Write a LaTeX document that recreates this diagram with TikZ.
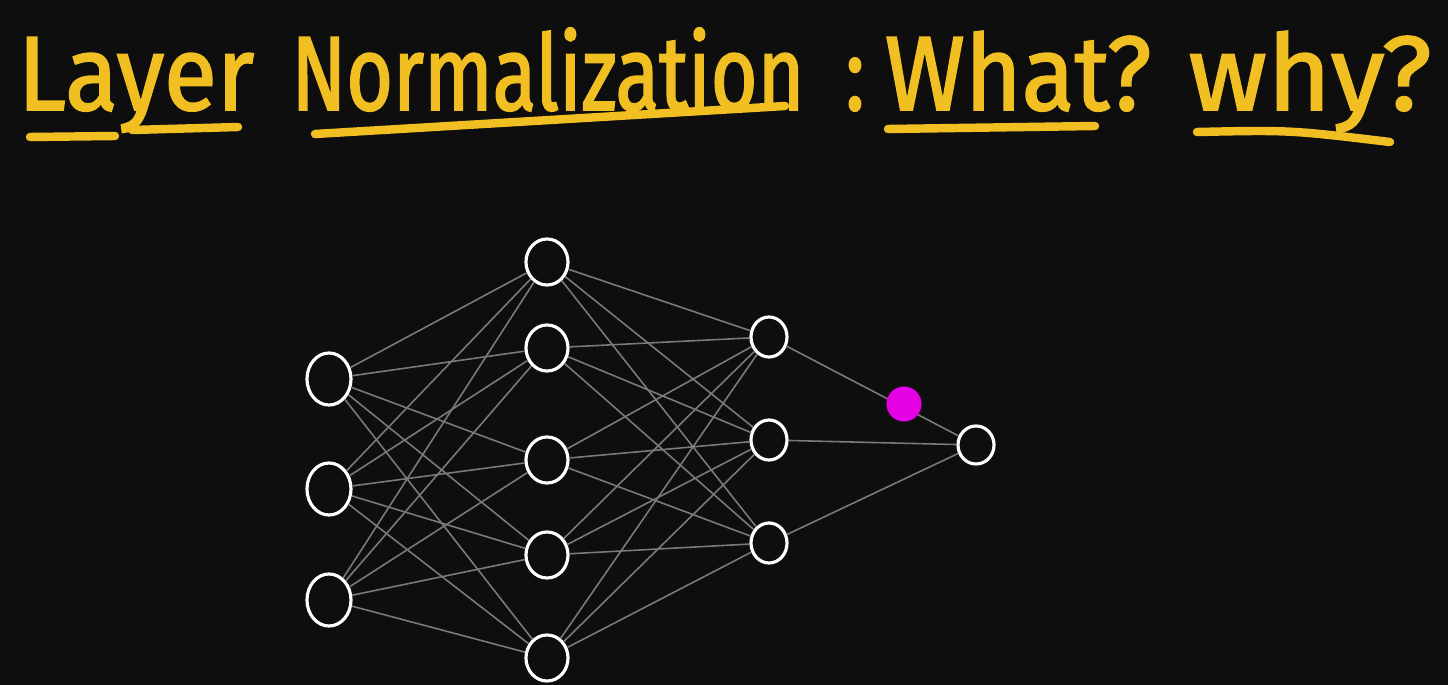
\documentclass[tikz,border=0pt]{standalone}
\usepackage{fontspec}
\newfontfamily\handfont[FakeStretch=0.76, FakeBold=1.6]{Fira Sans}
\newfontfamily\handwide[FakeStretch=0.92, FakeBold=1.6]{Fira Sans}
\newfontfamily\handwider[FakeStretch=1.04, FakeBold=1.6]{Fira Sans}
\usetikzlibrary{shapes.geometric}
\definecolor{board}{HTML}{0E0E0E}
\definecolor{chalk}{HTML}{F2BF22}
\definecolor{wiregray}{HTML}{7A7A7A}
\definecolor{pink}{HTML}{E600E6}

\begin{document}
\begin{tikzpicture}[x = 0.01cm, y = -0.01cm,
		neuron/.style = {ellipse, draw = white, line width = 0.9pt, inner sep = 0pt},
		link/.style = {draw = wiregray, line width = 0.45pt},
		title/.style = {anchor = base, text = chalk, inner sep = 0pt, font = \handfont\fontsize{30}{30}\selectfont},
		underline/.style = {draw = chalk, line width = 2.4pt, line cap = round}]
		\fill[board] (0, 0) rectangle (1448, 685);
		% title
		\node[title, font = \handwide\fontsize{30}{30}\selectfont] (tlayer) at (136, 110) {Layer};
		\node[title] (tnorm) at (548, 110) {Normalization};
		\node[title] (tcolon) at (855, 110) {:};
		\node[title, font = \handwide\fontsize{30}{30}\selectfont] (twhat) at (1018, 110) {What?};
		\node[title, font = \handwider\fontsize{30}{30}\selectfont] (twhy) at (1310, 110) {why?};
		\draw[underline] (30, 137) -- (115, 136);
		\draw[underline] (132, 130) -- (238, 127);
		\draw[underline] (315, 134) -- (785, 106);
		\draw[underline] (888, 129) -- (1095, 126);
		\draw[underline] (1197, 132) .. controls (1290, 130) .. (1390, 142);
		% network
		\foreach \y [count = \i] in {379, 489, 600}
			\node[neuron, minimum width = 0.44cm, minimum height = 0.52cm] (n1\i) at (329, \y) {};
		\foreach \y [count = \i] in {262, 348, 460, 555, 658}
			\node[neuron, minimum width = 0.42cm, minimum height = 0.46cm] (n2\i) at (547, \y) {};
		\foreach \y [count = \i] in {337, 440, 543}
			\node[neuron, minimum width = 0.36cm, minimum height = 0.40cm] (n3\i) at (769, \y) {};
		\node[neuron, minimum width = 0.36cm, minimum height = 0.38cm] (n4) at (976, 445) {};
		\foreach \x in {1, ..., 3}
			\foreach \y in {1, ..., 5}
				\draw[link] (n1\x) to (n2\y);
		\foreach \x in {1, ..., 5}
			\foreach \y in {1, ..., 3}
				\draw[link] (n2\x) to (n3\y);
		\foreach \x in {1, ..., 3}
			\draw[link] (n3\x) to (n4);
		\node[circle, fill = pink, minimum size = 0.35cm, inner sep = 0pt] (dot) at (904, 404) {};
	\end{tikzpicture}
\end{document}
